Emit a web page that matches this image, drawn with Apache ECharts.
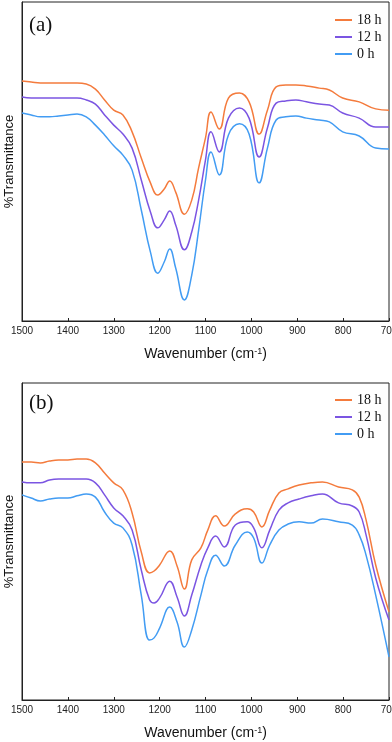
<!DOCTYPE html>
<html>
<head>
<meta charset="utf-8">
<script src="https://cdn.jsdelivr.net/npm/echarts@6/dist/echarts.min.js"></script>
<style>
  html, body { margin: 0; padding: 0; background: #fff; }
  #container { width: 392px; height: 742px; }
</style>
</head>
<body>
<div id="container"></div>
<script>
// wavenumbers (cm-1)
var wnA = [1500, 1480, 1460, 1440, 1420, 1400, 1380, 1360, 1340, 1320, 1300, 1280, 1260, 1240, 1220, 1204, 1190, 1178, 1165, 1146,
           1130, 1115, 1100, 1088, 1070, 1050, 1026, 1005, 983, 965, 946, 925, 903, 880, 852, 830, 801, 765, 729, 700];
var a18 = [75.2, 74.9, 74.6, 74.6, 74.6, 74.6, 74.6, 74.3, 72.7, 69.3, 66.1, 64.6, 59.3, 51.1, 43.3, 39.5, 41.4, 43.9, 40.4, 33.5,
           37.9, 48.0, 57.4, 65.5, 60.2, 69.9, 71.5, 68.7, 58.6, 66.1, 73.4, 74.0, 74.0, 73.7, 73.0, 72.4, 69.9, 68.7, 66.5, 66.1];
var a12 = [70.2, 69.9, 69.9, 69.9, 69.9, 69.9, 69.9, 69.3, 68.0, 64.6, 61.4, 58.6, 54.2, 44.2, 34.2, 29.2, 31.7, 34.5, 30.1, 22.3,
           27.9, 37.9, 50.5, 59.3, 53.0, 63.6, 66.8, 63.6, 51.4, 60.5, 68.3, 69.0, 69.3, 68.7, 68.0, 67.7, 65.2, 63.6, 60.8, 60.8];
var a0  = [65.2, 64.6, 64.0, 64.0, 64.3, 64.6, 64.9, 64.0, 61.4, 58.3, 54.9, 52.0, 47.3, 34.8, 21.6, 15.0, 18.5, 22.6, 16.6, 6.6,
           14.4, 28.5, 44.2, 53.0, 45.8, 58.3, 61.8, 58.6, 43.3, 54.2, 63.0, 64.0, 64.3, 63.6, 63.0, 62.4, 59.3, 58.0, 54.2, 53.9];

// panel (b)
var wnB = [1500, 1480, 1460, 1440, 1420, 1400, 1380, 1360, 1340, 1320, 1300, 1280, 1260, 1240, 1222, 1212, 1200, 1178, 1162, 1146,
           1130, 1110, 1095, 1078, 1059, 1035, 1009, 995, 977, 960, 940, 920, 896, 870, 845, 810, 780, 765, 750, 729, 700];
var b18 = [75.1, 75.1, 74.8, 75.4, 75.7, 75.7, 76.0, 76.0, 74.8, 71.6, 68.5, 66.3, 59.0, 46.7, 40.1, 40.7, 42.6, 47.0, 42.3, 35.0,
           44.2, 48.0, 53.6, 58.1, 54.9, 58.7, 60.3, 59.3, 54.6, 59.9, 65.3, 66.6, 67.8, 68.5, 68.8, 67.2, 66.3, 64.0, 56.8, 42.6, 27.8];
var b12 = [68.8, 68.5, 68.5, 69.4, 69.7, 69.7, 69.7, 69.7, 68.5, 64.7, 60.6, 58.1, 53.6, 41.0, 31.6, 30.6, 32.2, 37.5, 32.5, 26.5,
           33.1, 42.6, 48.0, 51.7, 48.3, 55.2, 56.2, 54.3, 48.0, 53.6, 59.9, 62.2, 63.4, 64.4, 65.0, 62.2, 61.2, 59.3, 52.1, 38.5, 25.2];
var b0  = [64.7, 63.7, 62.8, 63.4, 63.7, 63.7, 64.4, 65.0, 64.0, 59.3, 55.8, 54.3, 48.9, 33.1, 18.9, 19.6, 22.7, 29.3, 24.6, 16.7,
           22.1, 33.1, 41.0, 45.7, 42.3, 48.9, 53.0, 51.1, 43.2, 48.9, 53.6, 55.5, 56.2, 55.8, 57.1, 56.2, 55.2, 52.1, 45.7, 33.1, 13.6];

var names = ['18 h', '12 h', '0 h'];
var colors = ['#f47b3d', '#7b55e2', '#429cf3'];

function pairs(xs, ys) {
    return xs.map(function (x, i) { return [x, ys[i]]; });
}

function xAxisFor(idx) {
    return {
        gridIndex: idx,
        type: 'value',
        inverse: true,
        min: 700,
        max: 1500,
        interval: 100,
        name: 'Wavenumber (cm{sup|-1})',
        nameLocation: 'middle',
        nameGap: 26,
        nameTextStyle: {
            fontFamily: 'Liberation Sans',
            fontSize: 14,
            color: '#111',
            rich: { sup: { fontSize: 9, verticalAlign: 'top', padding: [0, 0, 6, 0] } }
        },
        axisLine: { lineStyle: { color: '#222', width: 1 } },
        axisTick: { inside: true, length: 3, lineStyle: { color: '#222' } },
        axisLabel: {
            fontFamily: 'Liberation Sans', fontSize: 10, color: '#222', margin: 5,
            formatter: function (v) { return String(v); }
        },
        splitLine: { show: false }
    };
}

function yAxisFor(idx) {
    return {
        gridIndex: idx,
        type: 'value',
        min: 0,
        max: 100,
        name: '%Transmittance',
        nameLocation: 'middle',
        nameGap: 6,
        nameTextStyle: { fontFamily: 'Liberation Sans', fontSize: 13, color: '#111' },
        axisLine: { show: true, lineStyle: { color: '#222', width: 1 } },
        axisTick: { show: false },
        axisLabel: { show: false },
        splitLine: { show: false }
    };
}

var series = [];
[[a18, a12, a0], [b18, b12, b0]].forEach(function (set, g) {
    var xs = g === 0 ? wnA : wnB;
    set.forEach(function (ys, k) {
        series.push({
            name: names[k],
            type: 'line',
            xAxisIndex: g,
            yAxisIndex: g,
            data: pairs(xs, ys),
            smooth: 0.45,
            showSymbol: false,
            lineStyle: { color: colors[k], width: 1.5 },
            itemStyle: { color: colors[k] }
        });
    });
});

function legendFor(top) {
    return {
        data: names,
        orient: 'vertical',
        left: 335,
        top: top,
        padding: 0,
        itemGap: 3,
        itemWidth: 17,
        itemHeight: 2,
        icon: 'rect',
        selectedMode: false,
        textStyle: { fontFamily: 'Liberation Serif', fontSize: 14, color: '#111', lineHeight: 14 }
    };
}

var myChart = echarts.init(document.getElementById('container'));
var option = {
    animation: false,
    backgroundColor: '#fff',
    title: [
        { text: '(a)', left: 29, top: 15, padding: 0,
          textStyle: { fontFamily: 'Liberation Serif', fontSize: 21, fontWeight: 'normal', color: '#111' } },
        { text: '(b)', left: 29, top: 393, padding: 0,
          textStyle: { fontFamily: 'Liberation Serif', fontSize: 21, fontWeight: 'normal', color: '#111' } }
    ],
    legend: [legendFor(13), legendFor(393)],
    grid: [
        { left: 22, right: 3, top: 2, height: 319, show: true, borderColor: '#222', borderWidth: 1, outerBoundsMode: 'none' },
        { left: 22, right: 3, top: 383, height: 317, show: true, borderColor: '#222', borderWidth: 1, outerBoundsMode: 'none' }
    ],
    xAxis: [xAxisFor(0), xAxisFor(1)],
    yAxis: [yAxisFor(0), yAxisFor(1)],
    series: series
};
myChart.setOption(option);
</script>
</body>
</html>
